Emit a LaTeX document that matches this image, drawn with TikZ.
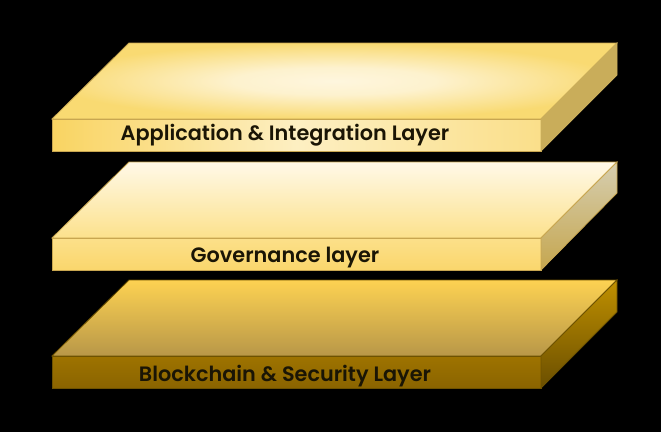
\documentclass[tikz,border=0pt]{standalone}
\usepackage{fontspec}
\setmainfont{Poppins SemiBold}
\definecolor{aTopIn}{HTML}{FEF6DE}
\definecolor{aTopOut}{HTML}{F9DA72}
\definecolor{aFrL}{HTML}{F9D462}
\definecolor{aFrM}{HTML}{FDEFC2}
\definecolor{aFrR}{HTML}{FADF8A}
\definecolor{aSide}{HTML}{C9AD5A}
\definecolor{aEdge}{HTML}{C8A650}
\definecolor{bTopT}{HTML}{FFF9E8}
\definecolor{bTopB}{HTML}{FCE18C}
\definecolor{bFrT}{HTML}{FCE08A}
\definecolor{bFrB}{HTML}{FAD66C}
\definecolor{bSideT}{HTML}{D6CEB0}
\definecolor{bSideB}{HTML}{C5A64E}
\definecolor{bEdge}{HTML}{C8A650}
\definecolor{cTopT}{HTML}{FDD252}
\definecolor{cTopB}{HTML}{B89748}
\definecolor{cFrT}{HTML}{9E7300}
\definecolor{cFrB}{HTML}{8A6400}
\definecolor{cSideT}{HTML}{C09000}
\definecolor{cSideB}{HTML}{6A4E00}
\definecolor{cEdge}{HTML}{6E5200}
\definecolor{txt}{HTML}{1A1505}
\pgfdeclareradialshading{toplight}{\pgfpoint{0bp}{0bp}}{%
  color(0bp)=(aTopIn); color(9bp)=(aTopIn!85!aTopOut);
  color(25bp)=(aTopOut); color(50bp)=(aTopOut)}
\tikzset{
  facet/.style={line width=0.8pt, line join=miter},
  lab/.style={font=\fontsize{20.8}{24}\selectfont, text=txt, inner sep=0pt, anchor=base}
}
\begin{document}
\begin{tikzpicture}[x=1pt,y=-1pt]
\fill[black] (0,0) rectangle (661,432);
\useasboundingbox (0,0) rectangle (661,432);
% ---- slab 1 : Application & Integration
\shade[facet, draw=aEdge, shading=toplight]
  (52,119) -- (129,43) -- (617,43) -- (541,119) -- cycle;
\shade[facet, draw=aEdge, left color=aFrL, right color=aFrR, middle color=aFrM]
  (52,119) rectangle (541,151);
\fill[facet, draw=aEdge, aSide]
  (541,119) -- (617,43) -- (617,75) -- (541,151) -- cycle;
\node[lab] (app) at (285,140) {Application \& Integration Layer};
% ---- slab 2 : Governance
\shade[facet, draw=bEdge, top color=bTopT, bottom color=bTopB]
  (52,238) -- (129,162) -- (617,162) -- (541,238) -- cycle;
\shade[facet, draw=bEdge, top color=bFrT, bottom color=bFrB]
  (52,238) rectangle (541,270);
\shade[facet, draw=bEdge, top color=bSideT, bottom color=bSideB]
  (541,238) -- (617,162) -- (617,193) -- (541,270) -- cycle;
\node[lab] (gov) at (285,262) {Governance layer};
% ---- slab 3 : Blockchain & Security
\shade[facet, draw=cEdge, top color=cTopT, bottom color=cTopB]
  (52,356) -- (129,280) -- (617,280) -- (541,356) -- cycle;
\shade[facet, draw=cEdge, top color=cFrT, bottom color=cFrB]
  (52,356) rectangle (541,388);
\shade[facet, draw=cEdge, top color=cSideT, bottom color=cSideB]
  (541,356) -- (617,280) -- (617,312) -- (541,388) -- cycle;
\node[lab] (blk) at (285,381) {Blockchain \& Security Layer};
\end{tikzpicture}
\end{document}
